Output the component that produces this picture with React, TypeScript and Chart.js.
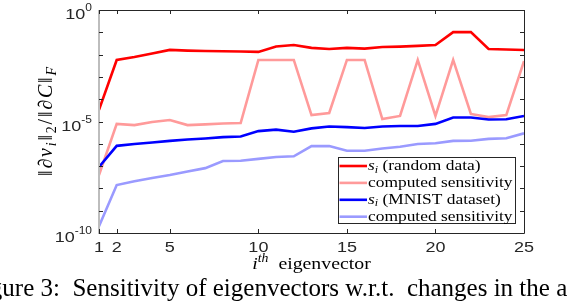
import React, { useEffect, useRef } from 'react';
import { Chart, registerables } from 'chart.js';

Chart.register(...registerables);

// ---- data ----
const eigenIndex = [1, 2, 3, 4, 5, 6, 7, 8, 9, 10, 11, 12, 13, 14, 15, 16, 17, 18, 19, 20, 21, 22, 23, 24, 25];
const randomSi = [3.3e-5, 5.75e-3, 7.8e-3, 1.12e-2, 1.62e-2, 1.51e-2, 1.45e-2, 1.41e-2, 1.38e-2, 1.32e-2, 2.29e-2, 2.69e-2, 2.0e-2, 1.78e-2, 2.0e-2, 1.86e-2, 2.19e-2, 2.29e-2, 2.45e-2, 2.69e-2, 0.102, 0.102, 1.78e-2, 1.7e-2, 1.62e-2];
const randomComputed = [4.0e-8, 7.8e-6, 6.9e-6, 9.5e-6, 1.17e-5, 6.9e-6, 7.4e-6, 8.1e-6, 8.5e-6, 5.75e-3, 5.75e-3, 5.75e-3, 1.95e-5, 2.4e-5, 5.75e-3, 5.75e-3, 1.29e-5, 1.78e-5, 5.75e-3, 1.78e-5, 5.75e-3, 2.19e-5, 1.58e-5, 1.95e-5, 5.1e-3];
const mnistSi = [9.1e-8, 8.1e-7, 9.8e-7, 1.15e-6, 1.35e-6, 1.55e-6, 1.74e-6, 2.0e-6, 2.14e-6, 3.7e-6, 4.3e-6, 3.5e-6, 4.9e-6, 6.0e-6, 5.6e-6, 5.1e-6, 6.0e-6, 6.3e-6, 6.3e-6, 7.8e-6, 1.51e-5, 1.51e-5, 1.23e-5, 1.26e-5, 1.78e-5];
const mnistComputed = [2.0e-10, 1.41e-8, 2.1e-8, 2.95e-8, 4.0e-8, 5.75e-8, 8.1e-8, 1.7e-7, 1.74e-7, 2.1e-7, 2.57e-7, 2.75e-7, 7.9e-7, 7.9e-7, 4.9e-7, 4.9e-7, 6.2e-7, 7.4e-7, 9.8e-7, 1.05e-6, 1.35e-6, 1.38e-6, 1.66e-6, 1.78e-6, 2.95e-6];

const xTickValues = [1, 2, 5, 10, 15, 20, 25];
const xTickLabels = ['1', '2', '5', '10', '15', '20', '25'];
const yTickValues = [1, 1e-1, 1e-2, 1e-3, 1e-4, 1e-5, 1e-6, 1e-7, 1e-8, 1e-9, 1e-10];
const yLabelValues = [1, 1e-5, 1e-10];
const yLabelExponents = ['0', '-5', '-10'];

const seriesLabels = ['(random data)', 'computed sensitivity', '(MNIST dataset)', 'computed sensitivity'];
const seriesHasSi = [true, false, true, false];
const seriesColors = ['#ff0000', '#ff9a9a', '#0000ff', '#9a9aff'];

const captionText = 'Figure 3:  Sensitivity of eigenvectors w.r.t.  changes in the adjacency matrix.';

// ---- drawing helpers ----
const STRETCH = 1.2;
type Run = { text: string; font: string; dy?: number };

function runsWidth(ctx: CanvasRenderingContext2D, runs: Run[], stretch: number, gap = 0) {
  let w = 0;
  for (const r of runs) {
    ctx.font = r.font;
    w += ctx.measureText(r.text).width * stretch;
  }
  return w + gap * Math.max(0, runs.length - 1);
}

function drawRuns(ctx: CanvasRenderingContext2D, runs: Run[], x: number, y: number, stretch: number, color: string, gap = 0) {
  let cx = x;
  for (const r of runs) {
    ctx.save();
    ctx.font = r.font;
    ctx.fillStyle = color;
    ctx.textBaseline = 'alphabetic';
    ctx.textAlign = 'left';
    const w = ctx.measureText(r.text).width;
    ctx.translate(cx, y + (r.dy || 0));
    ctx.scale(stretch, 1);
    ctx.fillText(r.text, 0, 0);
    ctx.restore();
    cx += w * stretch + gap;
  }
  return cx;
}

const SANS = "'Liberation Sans', Arial, sans-serif";
const SERIF = "'Liberation Serif', 'DejaVu Serif', serif";

function yTitleRuns(fs: number): Run[] {
  const up = `${fs}px ${SERIF}`;
  const it = `italic ${fs}px ${SERIF}`;
  const sub = `${fs * 0.7}px ${SERIF}`;
  const subIt = `italic ${fs * 0.7}px ${SERIF}`;
  const d = fs * 0.2;
  return [
    { text: '\u2016', font: up },
    { text: '\u2202', font: up },
    { text: 'v', font: it },
    { text: 'i', font: subIt, dy: d },
    { text: '\u2016', font: up },
    { text: '2', font: sub, dy: d },
    { text: '/', font: up },
    { text: '\u2016', font: up },
    { text: '\u2202', font: up },
    { text: 'C', font: it },
    { text: '\u2016', font: up },
    { text: 'F', font: subIt, dy: d },
  ];
}

const axesPlugin = {
  id: 'matlabAxes',
  afterDraw(chart: any) {
    const ctx: CanvasRenderingContext2D = chart.ctx;
    const { left, right, top, bottom } = chart.chartArea;
    const xs = chart.scales.x;
    const ys = chart.scales.y;
    const axisColor = '#262626';
    ctx.save();

    // box
    ctx.fillStyle = '#bdbdbd';
    ctx.fillRect(left - 1, top, 2, bottom - top + 1);
    ctx.strokeStyle = axisColor;
    ctx.lineWidth = 1;
    ctx.beginPath();
    ctx.moveTo(left, top + 0.5);
    ctx.lineTo(right + 0.5, top + 0.5);
    ctx.moveTo(right + 0.5, top);
    ctx.lineTo(right + 0.5, bottom + 0.5);
    ctx.moveTo(left, bottom + 0.5);
    ctx.lineTo(right + 0.5, bottom + 0.5);
    ctx.stroke();

    // ticks
    const tl = 4;
    ctx.beginPath();
    for (const v of xTickValues) {
      const px = Math.round(xs.getPixelForValue(v)) + 0.5;
      ctx.moveTo(px, bottom);
      ctx.lineTo(px, bottom - tl);
      ctx.moveTo(px, top);
      ctx.lineTo(px, top + tl);
    }
    for (const v of yTickValues) {
      const py = Math.round(ys.getPixelForValue(v)) + 0.5;
      ctx.moveTo(left, py);
      ctx.lineTo(left + tl, py);
      ctx.moveTo(right, py);
      ctx.lineTo(right - tl, py);
    }
    ctx.stroke();

    // x tick labels
    const tickFont = `15px ${SANS}`;
    xTickValues.forEach((v, i) => {
      const px = xs.getPixelForValue(v);
      const runs = [{ text: xTickLabels[i], font: tickFont }];
      const w = runsWidth(ctx, runs, STRETCH);
      drawRuns(ctx, runs, px - w / 2, bottom + 19, STRETCH, axisColor);
    });

    // y tick labels: 10^exp
    yLabelValues.forEach((v, i) => {
      const py = ys.getPixelForValue(v);
      const runs: Run[] = [
        { text: '10', font: tickFont, dy: 9 },
        { text: yLabelExponents[i], font: `10px ${SANS}`, dy: 1 },
      ];
      const w = runsWidth(ctx, runs, STRETCH);
      drawRuns(ctx, runs, left - 7 - w, py, STRETCH, axisColor);
    });

    // x title: i^th eigenvector
    const xt: Run[] = [
      { text: 'i', font: `italic 16.5px ${SERIF}` },
      { text: 'th', font: `italic 11.5px ${SERIF}`, dy: -7 },
      { text: '  ', font: `16.5px ${SERIF}` },
      { text: 'eigenvector', font: `16.5px ${SERIF}` },
    ];
    const xtw = runsWidth(ctx, xt, STRETCH);
    drawRuns(ctx, xt, (left + right) / 2 - xtw / 2, bottom + 36, STRETCH, '#000');

    // y title: ||dv_i||_2/||dC||_F  (spread to span ~109px)
    const yt = yTitleRuns(20);
    const base = runsWidth(ctx, yt, 1);
    const gap = Math.max(0, (109 - base) / (yt.length - 1));
    ctx.save();
    ctx.translate(52, (top + bottom) / 2);
    ctx.rotate(-Math.PI / 2);
    const ytw = runsWidth(ctx, yt, 1, gap);
    drawRuns(ctx, yt, -ytw / 2, 0, 1, '#000', gap);
    ctx.restore();

    // legend
    const lx = 338, ly = 157, lw = 177, lh = 66;
    ctx.fillStyle = '#ffffff';
    ctx.fillRect(lx, ly, lw, lh);
    ctx.strokeStyle = '#262626';
    ctx.lineWidth = 1;
    ctx.strokeRect(lx + 0.5, ly + 0.5, lw, lh);
    const rowH = 16.9;
    const legFont = `14.5px ${SERIF}`;
    seriesLabels.forEach((label, i) => {
      const cy = ly + 9 + i * rowH;
      ctx.strokeStyle = seriesColors[i];
      ctx.lineWidth = 2.6;
      ctx.beginPath();
      ctx.moveTo(lx + 1.5, cy);
      ctx.lineTo(lx + 29, cy);
      ctx.stroke();
      const runs: Run[] = [];
      if (seriesHasSi[i]) {
        runs.push({ text: 's', font: `italic 14.5px ${SERIF}` });
        runs.push({ text: 'i', font: `italic 10px ${SERIF}`, dy: 2.5 });
        runs.push({ text: ' ' + label, font: legFont });
      } else {
        runs.push({ text: label, font: legFont });
      }
      drawRuns(ctx, runs, lx + 30, cy + 4, STRETCH, '#000');
    });

    ctx.restore();
  },
};

export default function App() {
  const canvasRef = useRef<HTMLCanvasElement | null>(null);

  useEffect(() => {
    document.body.style.margin = '0';
    document.body.style.overflow = 'hidden';
    const canvas = canvasRef.current;
    if (!canvas) return;
    const mk = (vals: number[]) => eigenIndex.map((x, i) => ({ x, y: vals[i] }));
    const allSeries = [randomSi, randomComputed, mnistSi, mnistComputed];
    const chart = new Chart(canvas, {
      type: 'line',
      data: {
        datasets: allSeries.map((vals, i) => ({
          label: seriesLabels[i],
          data: mk(vals),
          borderColor: seriesColors[i],
          backgroundColor: seriesColors[i],
          borderWidth: 2.6,
          pointRadius: 0,
          tension: 0,
          fill: false,
          order: 4 - i,
        })),
      },
      options: {
        animation: false,
        responsive: false,
        devicePixelRatio: 1,
        events: [],
        layout: { padding: { left: 99, top: 10, right: 44, bottom: 73 } },
        scales: {
          x: { type: 'linear', min: 1, max: 25, display: false },
          y: { type: 'logarithmic', min: 1e-10, max: 1, display: false },
        },
        plugins: { legend: { display: false }, tooltip: { enabled: false } },
      },
      plugins: [axesPlugin],
    } as any);
    return () => chart.destroy();
  }, []);

  return (
    <div style={{ position: 'relative', width: 568, height: 306, overflow: 'hidden', background: '#fff' }}>
      <canvas ref={canvasRef} width={568} height={306} style={{ position: 'absolute', left: 0, top: 0 }} />
      <div
        style={{
          position: 'absolute',
          left: -31,
          top: 275,
          font: "25px 'Liberation Serif', serif",
          lineHeight: '25px',
          whiteSpace: 'pre',
          color: '#000',
        }}
      >
        {captionText}
      </div>
    </div>
  );
}
